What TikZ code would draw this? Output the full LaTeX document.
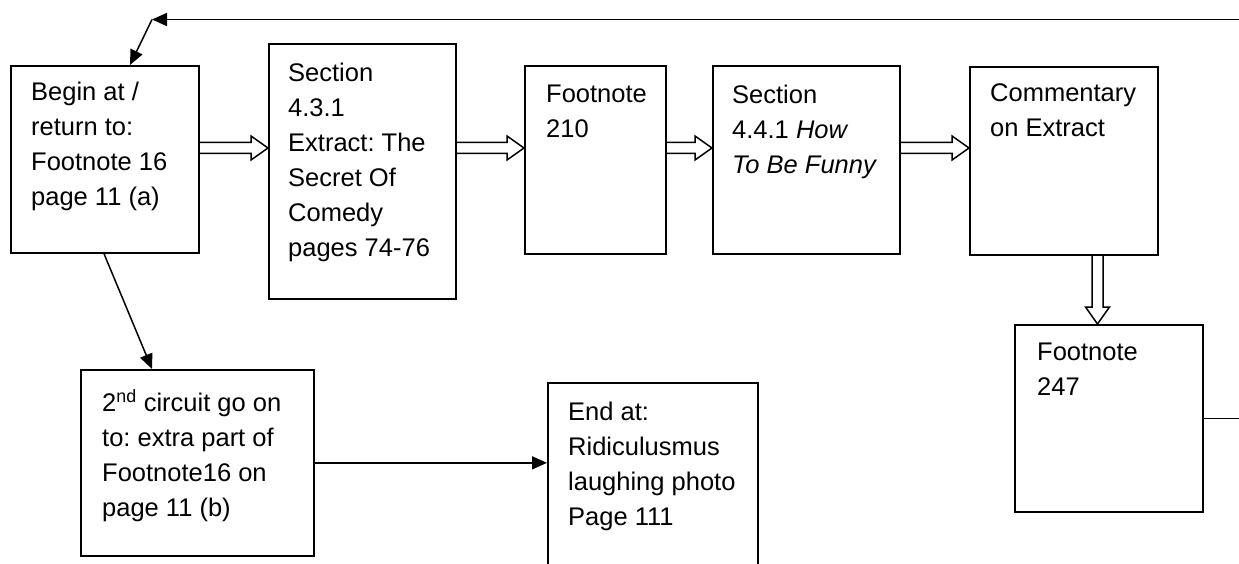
\documentclass[tikz,border=0pt]{standalone}
\usepackage{fontspec}
\setmainfont{Liberation Sans}
\usetikzlibrary{arrows.meta,calc}
\frenchspacing
\newcommand\hrarrow[3]{%
  \draw[hollow] ($(#1.east|-0,#3)+(0,-5.5)$) -- ($(#2.west|-0,#3)+(-17,-5.5)$) -- ($(#2.west|-0,#3)+(-17,-12)$) -- (#2.west|-0,#3) -- ($(#2.west|-0,#3)+(-17,12)$) -- ($(#2.west|-0,#3)+(-17,5.5)$) -- ($(#1.east|-0,#3)+(0,5.5)$);}
\begin{document}
\begin{tikzpicture}[x=1pt,y=-1pt,
  box/.style={draw, line width=1.7pt, inner sep=0pt, anchor=north west},
  lbl/.style={anchor=north west, inner sep=0pt, align=left, font=\fontsize{25.5}{35}\selectfont},
  arr/.style={line width=1.5pt, -{Triangle[length=15pt,width=13pt]}},
  hollow/.style={line width=1.5pt, line join=miter}]
\useasboundingbox (0,0) rectangle (1239,564);
\clip (0,0) rectangle (1239,564);
% boxes
\node[box, minimum width=188pt, minimum height=187pt] (b1) at (10,65) {};
\node[box, minimum width=187pt, minimum height=255pt] (b2) at (268,43) {};
\node[box, minimum width=141pt, minimum height=188pt] (b3) at (524,65) {};
\node[box, minimum width=187pt, minimum height=188pt] (b4) at (712,65) {};
\node[box, minimum width=188pt, minimum height=188pt] (b5) at (969,66) {};
\node[box, minimum width=188pt, minimum height=187pt] (b6) at (1014,324) {};
\node[box, minimum width=233pt, minimum height=186pt] (b7) at (80,369) {};
\node[box, minimum width=210pt, minimum height=200pt] (b8) at (547,382) {};
% labels
\node[lbl] (t1) at ($(b1.north west)+(21,17)$) {Begin at /\\return to:\\Footnote 16\\page 11 (a)};
\node[lbl] (t2) at ($(b2.north west)+(20,20)$) {Section\\4.3.1\\Extract: The\\Secret Of\\Comedy\\pages 74-76};
\node[lbl] (t3) at ($(b3.north west)+(22,20)$) {Footnote\\210};
\node[lbl] (t4) at ($(b4.north west)+(20,20)$) {Section\\4.4.1 \textit{How}\\\textit{To Be Funny}};
\node[lbl] (t5) at ($(b5.north west)+(21,17)$) {Commentary\\on Extract};
\node[lbl] (t6) at ($(b6.north west)+(23,19)$) {Footnote\\247};
\node[lbl] (t7) at ($(b7.north west)+(22,20)$) {2\textsuperscript{nd} circuit go on\\to: extra part of\\Footnote16 on\\page 11 (b)};
\node[lbl] (t8) at ($(b8.north west)+(21,20)$) {End at:\\Ridiculusmus\\laughing photo\\Page 111};
% hollow arrows
\hrarrow{b1}{b2}{148}
\hrarrow{b2}{b3}{148}
\hrarrow{b3}{b4}{148}
\hrarrow{b4}{b5}{148}
\draw[hollow] ($(b5.south -| 1097.5,0)+(-5.5,0)$) -- ($(b6.north -| 1097.5,0)+(-5.5,-17)$) -- ($(b6.north -| 1097.5,0)+(-12,-17)$) -- (b6.north -| 1097.5,0) -- ($(b6.north -| 1097.5,0)+(12,-17)$) -- ($(b6.north -| 1097.5,0)+(5.5,-17)$) -- ($(b5.south -| 1097.5,0)+(5.5,0)$);
% loop back
\coordinate (turn) at (152,19.5);
\coordinate (rc) at (1250,19.5);
\draw[arr] (b6.east) -- (b6.east -| rc) -- (rc) -- (turn);
\draw[arr] (turn) -- ($(b1.north west)+(120,0)$);
% other arrows
\draw[arr] ($(b1.south west)+(94,0)$) -- ($(b7.north west)+(72,0)$);
\draw[arr] (b7.east) -- (b7.east -| b8.west);
\end{tikzpicture}
\end{document}
